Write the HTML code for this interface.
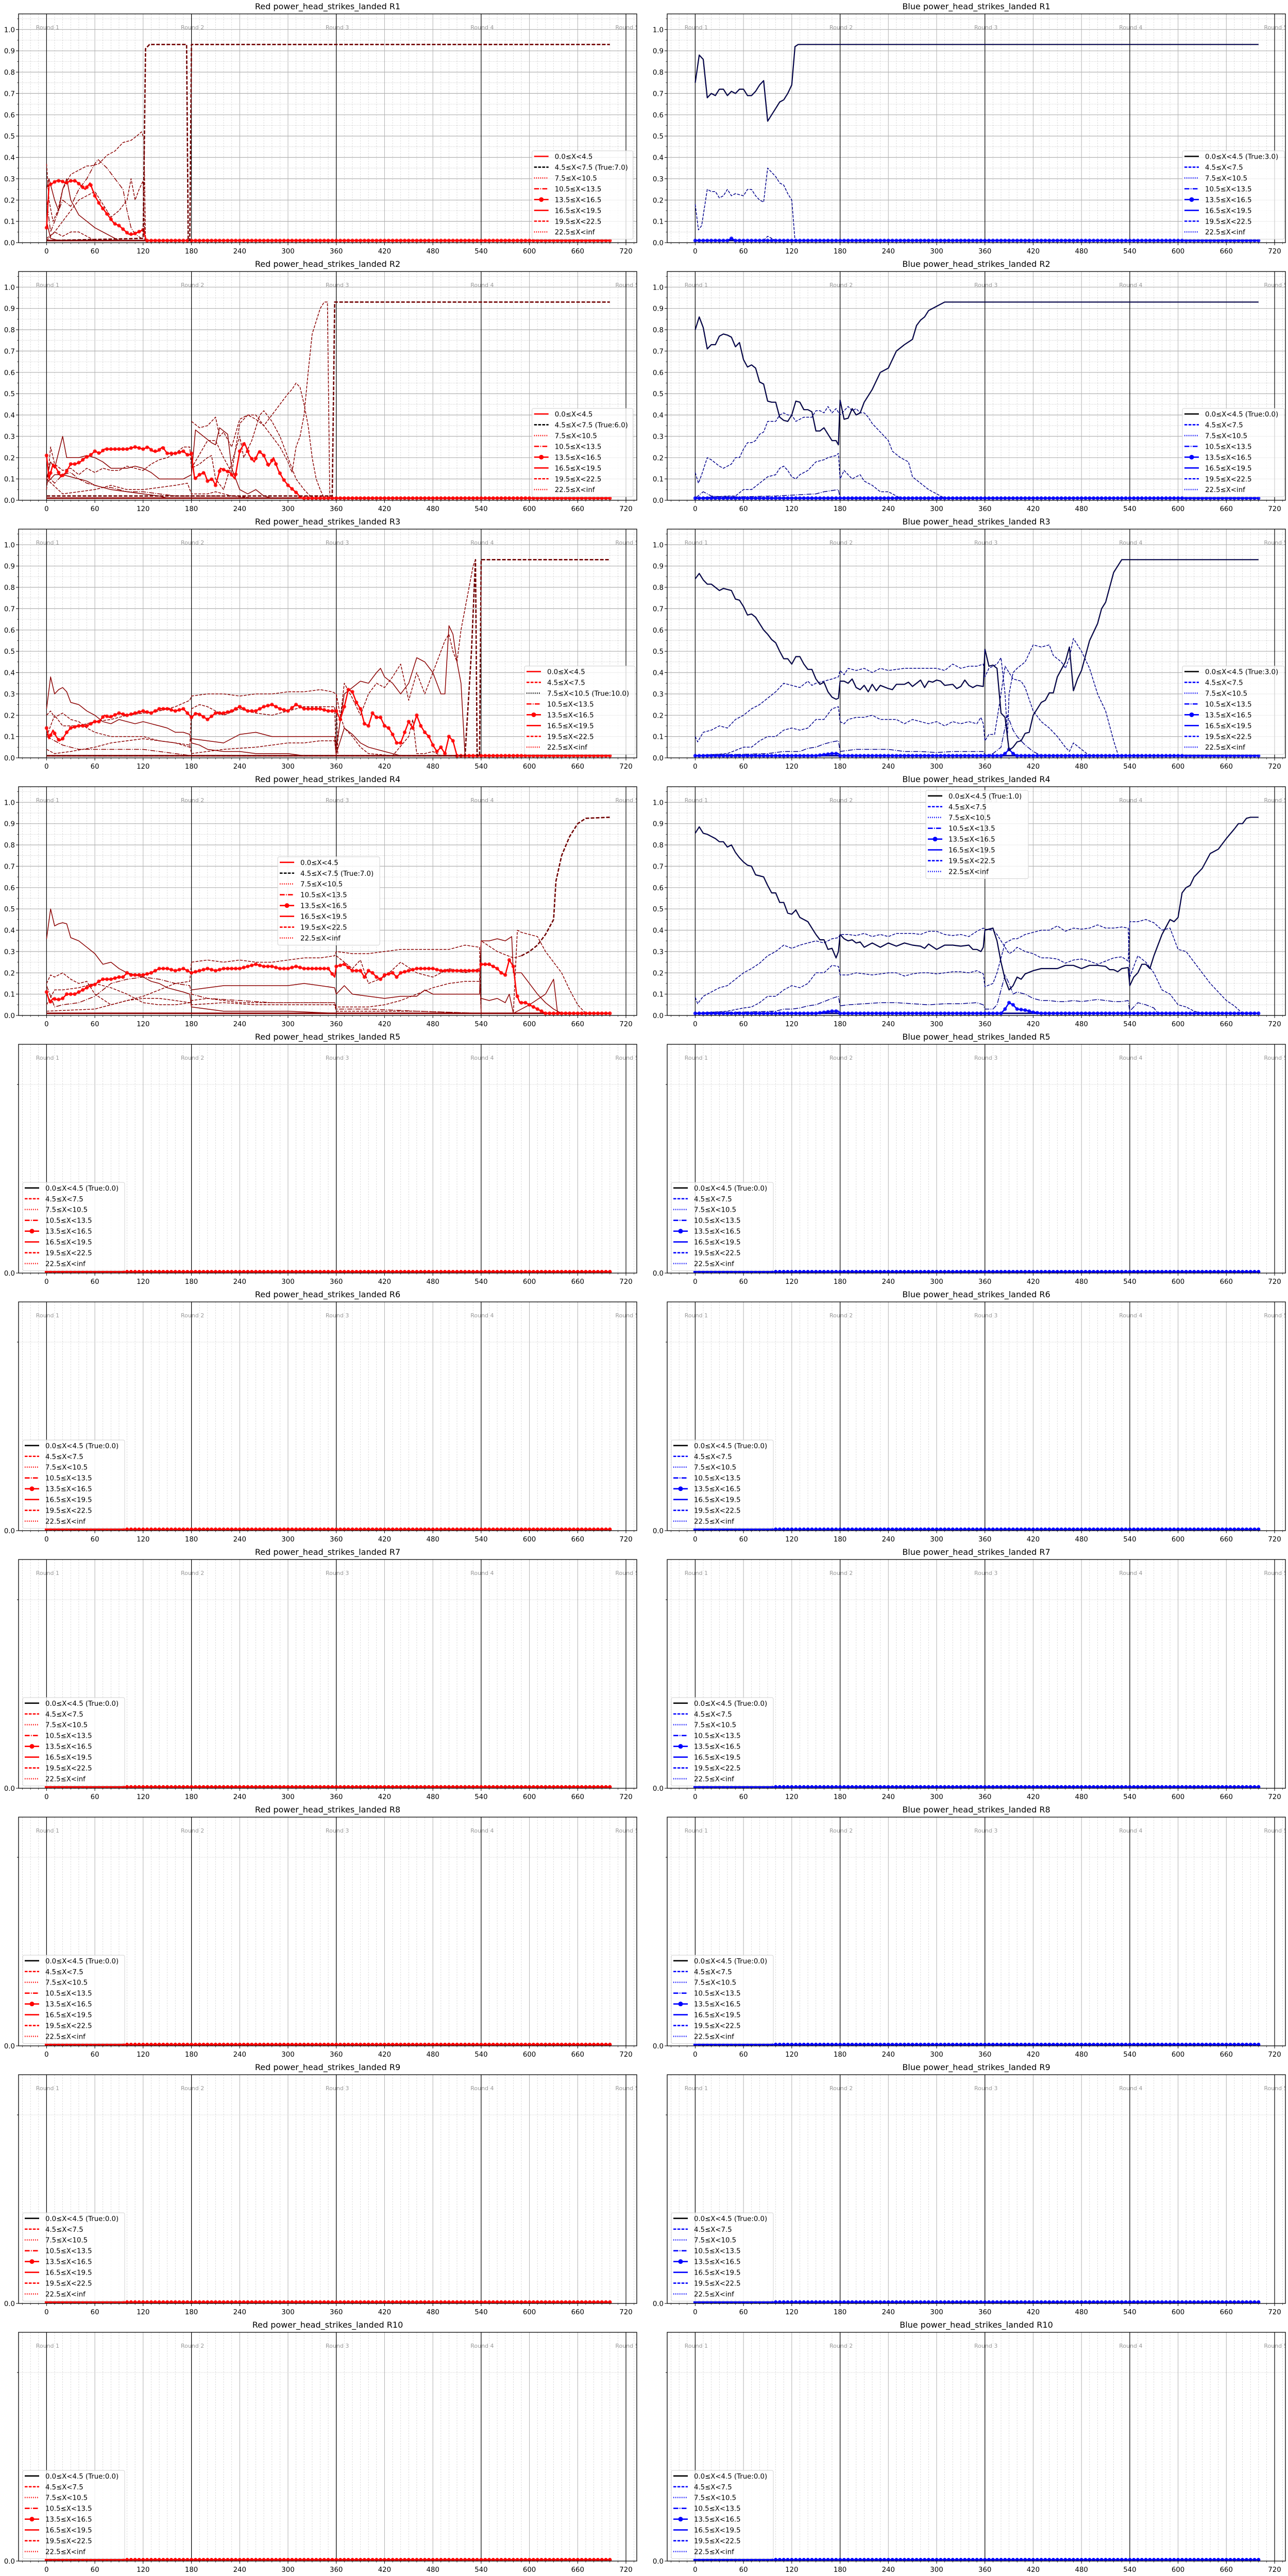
<!DOCTYPE html>
<html><head><meta charset="utf-8">
<style>
html,body{margin:0;padding:0;background:#fff;width:2500px;height:6000px;overflow:hidden;}
svg{display:block;position:absolute;left:0;top:0;width:2500px;height:6000px;overflow:hidden;font-family:"DejaVu Sans","Liberation Sans",sans-serif;}
</style></head>
<body>
<svg id="c" xmlns="http://www.w3.org/2000/svg" width="2500" height="6000" viewBox="0 0 2500 6000"></svg>
<script>
const TITLES_RED=["Red power_head_strikes_landed R1","Red power_head_strikes_landed R2","Red power_head_strikes_landed R3","Red power_head_strikes_landed R4","Red power_head_strikes_landed R5","Red power_head_strikes_landed R6","Red power_head_strikes_landed R7","Red power_head_strikes_landed R8","Red power_head_strikes_landed R9","Red power_head_strikes_landed R10","Red power_head_strikes_landed R11","Red power_head_strikes_landed R12"];
const TITLES_BLUE=["Blue power_head_strikes_landed R1","Blue power_head_strikes_landed R2","Blue power_head_strikes_landed R3","Blue power_head_strikes_landed R4","Blue power_head_strikes_landed R5","Blue power_head_strikes_landed R6","Blue power_head_strikes_landed R7","Blue power_head_strikes_landed R8","Blue power_head_strikes_landed R9","Blue power_head_strikes_landed R10","Blue power_head_strikes_landed R11","Blue power_head_strikes_landed R12"];
const BINS=["0.0≤X&lt;4.5","4.5≤X&lt;7.5","7.5≤X&lt;10.5","10.5≤X&lt;13.5","13.5≤X&lt;16.5","16.5≤X&lt;19.5","19.5≤X&lt;22.5","22.5≤X&lt;inf"];
const ROUNDS=["Round 1","Round 2","Round 3","Round 4","Round 5"];
const SPX=1.562;
function X(c,t){return c*1259+90.4+t*SPX}
function Y(r,v){return r*500+471-v*413.7}
const DASH={solid:"",dashed:"5.5,2.4",dotted:"1.5,2.5",dashdot:"9.6,2.4,1.5,2.4",tdash:"7,3"};
let s='';
function P(a){const o=[];for(let i=0;i<a.length;i+=2)o.push([a[i],a[i+1]]);return o;}
function interp(p,t){if(t<=p[0][0])return p[0][1];for(let i=1;i<p.length;i++){if(t<=p[i][0]){const a=p[i-1],b=p[i];if(b[0]==a[0])return b[1];return a[1]+(b[1]-a[1])*(t-a[0])/(b[0]-a[0]);}}return p[p.length-1][1];}
function poly(r,c,p,col,w,dash,extra){
  const pts=p.map(q=>X(c,q[0]).toFixed(1)+','+Y(r,q[1]).toFixed(1)).join(' ');
  s+=`<polyline points="${pts}" fill="none" stroke="${col}" stroke-width="${w}" ${dash?`stroke-dasharray="${dash}"`:''} stroke-linejoin="round" ${extra||''}/>`;
}
const D={};
D['0_0']={tr:P([0,0.01,120,0.02,123,0.91,128,0.93,174,0.93,176,0.01,178,0.01,180,0.93,700,0.93]),
 mk:P([0,0.07,3,0.27,8,0.28,12,0.29,18,0.29,24,0.28,30,0.29,36,0.29,42,0.27,48,0.25,54,0.28,60,0.22,66,0.18,72,0.15,78,0.12,84,0.09,90,0.08,96,0.06,102,0.04,108,0.04,114,0.05,120,0.06,124,0.01,700,0.01]),
 ls:[["dashed",P([0,0.37,3,0.2,8,0.1,14,0.15,20,0.25,30,0.32,40,0.34,50,0.36,55,0.36,65,0.37,75,0.41,85,0.43,95,0.47,105,0.48,112,0.5,118,0.52,121,0.49,123,0.01])],
 ["dashdot",P([0,0.2,5,0.05,10,0.1,20,0.2,30,0.17,40,0.25,50,0.3,60,0.37,64,0.39,75,0.35,85,0.3,95,0.25,100,0.15,105,0.07,110,0.04,118,0.02])],
 ["solid",P([0,0.25,3,0.3,10,0.2,15,0.15,20,0.25,25,0.3,30,0.2,40,0.13,50,0.1,60,0.07,70,0.05,80,0.03,90,0.01])],
 ["dashed",P([0,0.02,10,0.05,20,0.1,30,0.15,40,0.2,50,0.22,60,0.24,70,0.18,80,0.12,90,0.15,100,0.2,105,0.3,110,0.2,115,0.25,120,0.29,122,0.01])],
 ["dashed",P([0,0.01,10,0.05,20,0.03,30,0.05,40,0.05,50,0.03,60,0.01])],
 ["solid",P([0,0.1,5,0.02,15,0.01,50,0.01])]],
 leg:[1032.7,292.7,196,171.5],ti:1,ts:"dashed"};
D['0_1']={tr:P([0,0.75,5,0.88,10,0.86,15,0.68,20,0.7,25,0.69,30,0.72,35,0.72,40,0.69,45,0.71,50,0.7,55,0.72,60,0.72,65,0.69,70,0.69,75,0.71,80,0.74,85,0.76,90,0.57,95,0.6,100,0.63,105,0.66,110,0.67,115,0.7,120,0.74,124,0.92,128,0.93,700,0.93]),
 mk:P([0,0.01,40,0.01,45,0.02,50,0.01,700,0.01]),
 ls:[["dashed",P([0,0.18,4,0.06,8,0.08,15,0.25,20,0.24,25,0.24,30,0.21,35,0.22,40,0.25,45,0.22,50,0.23,60,0.22,65,0.25,70,0.25,75,0.22,80,0.2,85,0.19,90,0.35,95,0.33,100,0.31,105,0.28,110,0.27,115,0.23,120,0.2,124,0.01])],
 ["dashed",P([85,0.01,90,0.03,95,0.02,100,0.01])]],
 leg:[2295,292.7,198,171.5],ti:0,ts:"solid"};
D['1_0']={tr:P([0,0.02,355,0.02,358,0.93,700,0.93]),
 mk:P([0,0.21,3,0.1,8,0.17,12,0.15,18,0.11,24,0.13,30,0.17,36,0.17,42,0.18,48,0.2,54,0.21,60,0.23,66,0.22,72,0.24,78,0.24,90,0.24,100,0.24,110,0.25,120,0.24,126,0.25,132,0.23,138,0.23,144,0.25,150,0.22,160,0.22,170,0.23,176,0.21,180,0.22,184,0.1,190,0.12,196,0.13,200,0.09,206,0.1,210,0.07,216,0.15,222,0.14,228,0.13,234,0.1,240,0.23,246,0.27,252,0.21,258,0.18,264,0.23,270,0.21,276,0.16,282,0.2,288,0.14,294,0.1,300,0.07,306,0.05,312,0.03,316,0.01,700,0.01]),
 ls:[["dashed",P([180,0.37,190,0.34,200,0.35,210,0.39,215,0.3,220,0.32,230,0.25,240,0.38,250,0.4,260,0.4,270,0.35,280,0.3,290,0.25,300,0.18,305,0.13,310,0.25,315,0.3,320,0.4,325,0.6,330,0.78,340,0.9,345,0.93,349,0.93,352,0.01])],
 ["solid",P([0,0.1,5,0.18,10,0.15,20,0.3,25,0.2,30,0.2,40,0.2,50,0.21,60,0.2,70,0.18,80,0.15,90,0.15,100,0.15,110,0.16,120,0.15,130,0.13,140,0.1,150,0.1,160,0.1,170,0.1,180,0.12,185,0.33,195,0.3,205,0.27,210,0.26,215,0.34,225,0.31,230,0.15,240,0.05,250,0.03,260,0.05,270,0.02,280,0.01])],
 ["dashed",P([0,0.05,5,0.25,10,0.17,20,0.14,30,0.15,40,0.12,50,0.15,60,0.13,70,0.15,80,0.14,90,0.14,100,0.16,110,0.15,120,0.14,130,0.17,140,0.19,150,0.2,160,0.22,170,0.25,178,0.25,180,0.15,190,0.17,200,0.2,205,0.21,210,0.1,220,0.05,240,0.3,245,0.2,255,0.28,265,0.4,270,0.42,280,0.37,290,0.3,300,0.2,310,0.1,320,0.05,330,0.01])],
 ["dashed",P([0,0.1,20,0.03,40,0.04,60,0.05,80,0.07,100,0.05,120,0.05,140,0.06,160,0.07,175,0.08,180,0.03,200,0.03,210,0.04,230,0.02,260,0.01])],
 ["dashdot",P([0,0.12,10,0.08,20,0.12,30,0.13,40,0.1,50,0.08,60,0.07,70,0.06,80,0.06,100,0.04,120,0.04,140,0.03,160,0.02,180,0.02,200,0.02,220,0.02])],
 ["solid",P([0,0.08,10,0.12,20,0.12,30,0.11,40,0.1,50,0.09,60,0.07,80,0.05,100,0.04,120,0.03,140,0.02,150,0.01,180,0.01])],
 ["dashed",P([180,0.15,200,0.28,210,0.28,220,0.2,230,0.13,240,0.36,250,0.4,260,0.38,270,0.35,280,0.4,290,0.45,300,0.5,305,0.52,310,0.55,315,0.53,320,0.45,325,0.35,330,0.2,335,0.1,340,0.05,345,0.01])]],
 leg:[1032.7,292.7,196,171.5],ti:1,ts:"dashed"};
D['1_1']={tr:P([0,0.8,5,0.86,10,0.81,15,0.71,20,0.73,25,0.73,30,0.77,35,0.78,40,0.775,45,0.765,50,0.72,55,0.74,60,0.66,65,0.625,70,0.635,75,0.62,80,0.555,85,0.545,90,0.465,95,0.46,100,0.46,105,0.39,110,0.375,115,0.37,120,0.4,125,0.465,130,0.46,135,0.425,140,0.425,145,0.415,150,0.325,155,0.325,160,0.34,165,0.31,170,0.28,175,0.28,178,0.26,180,0.47,185,0.38,190,0.385,195,0.43,200,0.4,205,0.41,210,0.46,220,0.52,230,0.6,240,0.62,250,0.7,260,0.73,270,0.755,275,0.82,280,0.845,285,0.86,290,0.89,300,0.91,310,0.93,700,0.93]),
 mk:P([0,0.01,700,0.01]),
 ls:[["dashed",P([0,0.13,4,0.08,8,0.12,15,0.2,20,0.19,30,0.16,35,0.15,45,0.17,50,0.2,55,0.2,60,0.24,65,0.27,70,0.27,75,0.28,80,0.31,85,0.32,90,0.37,100,0.37,105,0.4,110,0.41,115,0.4,120,0.4,125,0.37,130,0.38,135,0.39,145,0.39,150,0.42,155,0.42,160,0.41,165,0.44,170,0.41,175,0.43,180,0.4,185,0.42,190,0.44,195,0.42,200,0.43,205,0.41,210,0.41,215,0.39,220,0.36,230,0.32,240,0.28,245,0.23,255,0.2,265,0.18,270,0.11,280,0.08,290,0.05,300,0.03,310,0.01])],
 ["dashed",P([0,0.01,40,0.02,50,0.02,60,0.05,70,0.05,80,0.08,90,0.11,100,0.12,105,0.15,110,0.16,115,0.14,120,0.11,125,0.1,130,0.12,140,0.14,150,0.18,160,0.19,165,0.2,175,0.21,178,0.22,180,0.1,185,0.14,190,0.12,195,0.1,200,0.11,205,0.12,210,0.09,220,0.07,230,0.04,240,0.04,250,0.02,255,0.01])],
 ["dashdot",P([0,0.01,10,0.04,20,0.02,40,0.015,100,0.02,150,0.03,160,0.04,178,0.05,180,0.01])]],
 leg:[2295,292.7,198,171.5],ti:0,ts:"solid"};
D['2_0']={tr:P([0,0.01,520,0.01,528,0.5,533,0.93,535,0.01,538,0.01,540,0.93,700,0.93]),
 mk:P([0,0.14,3,0.09,8,0.13,12,0.1,16,0.08,20,0.09,25,0.12,30,0.14,40,0.15,50,0.15,60,0.17,65,0.17,72,0.2,78,0.19,90,0.21,100,0.2,110,0.21,120,0.22,130,0.21,140,0.23,150,0.23,160,0.22,170,0.23,180,0.19,186,0.21,192,0.2,200,0.18,210,0.21,220,0.21,230,0.22,240,0.24,250,0.22,260,0.22,270,0.24,280,0.25,290,0.23,300,0.22,310,0.25,320,0.23,330,0.23,340,0.23,350,0.22,360,0.22,365,0.18,370,0.24,375,0.32,380,0.31,385,0.26,390,0.23,395,0.16,400,0.15,405,0.21,410,0.19,415,0.19,420,0.15,425,0.14,430,0.11,435,0.07,440,0.07,445,0.12,450,0.17,455,0.14,460,0.2,465,0.15,470,0.12,475,0.1,480,0.06,485,0.03,490,0.05,495,0.02,500,0.1,505,0.08,510,0.01,700,0.01]),
 ls:[["solid",P([0,0.23,5,0.38,10,0.3,15,0.32,20,0.33,25,0.31,30,0.26,40,0.25,50,0.22,60,0.2,70,0.17,80,0.16,90,0.18,100,0.17,110,0.16,120,0.17,130,0.16,140,0.15,150,0.14,160,0.12,170,0.12,178,0.11,180,0.07,190,0.06,200,0.04,220,0.03,240,0.03,260,0.02,280,0.02,300,0.02,320,0.01,360,0.01])],
 ["dashed",P([0,0.1,10,0.2,20,0.15,40,0.15,60,0.17,80,0.18,100,0.2,120,0.21,140,0.22,160,0.24,178,0.27,180,0.29,200,0.3,220,0.3,240,0.29,260,0.3,280,0.3,300,0.31,320,0.31,340,0.32,355,0.31,360,0.3,362,0.01])],
 ["dashed",P([0,0.2,5,0.22,10,0.19,20,0.21,30,0.18,40,0.17,50,0.14,60,0.12,80,0.1,100,0.1,120,0.1,140,0.08,160,0.07,178,0.05,180,0.23,190,0.25,200,0.24,210,0.22,220,0.2,240,0.23,260,0.21,280,0.2,300,0.22,320,0.24,340,0.24,358,0.24,360,0.01])],
 ["solid",P([180,0.09,200,0.08,220,0.07,240,0.11,260,0.12,280,0.1,300,0.1,320,0.1,340,0.1,358,0.1,360,0.01])],
 ["dashed",P([0,0.04,10,0.02,30,0.03,60,0.05,80,0.07,100,0.08,120,0.09,140,0.08,160,0.07,178,0.06,180,0.02,200,0.03,220,0.04,260,0.05,280,0.06,300,0.07,320,0.07,340,0.08,358,0.08,360,0.01])],
 ["dashdot",P([0,0.1,20,0.06,40,0.04,60,0.04,80,0.04,100,0.04,120,0.04,140,0.03,160,0.02,180,0.01,360,0.01])],
 ["solid",P([360,0.05,370,0.3,380,0.33,390,0.36,400,0.35,410,0.4,415,0.42,420,0.38,430,0.35,440,0.3,450,0.35,460,0.47,470,0.45,480,0.4,490,0.3,495,0.3,500,0.62,505,0.58,510,0.45,515,0.35,520,0.01])],
 ["dashed",P([360,0.02,370,0.35,380,0.28,390,0.2,400,0.3,410,0.35,420,0.33,430,0.38,440,0.44,450,0.27,460,0.4,470,0.3,480,0.4,490,0.5,495,0.55,500,0.58,505,0.5,510,0.45,515,0.6,520,0.7,525,0.8,530,0.9,533,0.93])],
 ["solid",P([360,0.02,370,0.14,380,0.11,390,0.07,400,0.05,420,0.03,440,0.01])],
 ["dashed",P([360,0.3,365,0.2,370,0.14,380,0.1,390,0.05,400,0.02,430,0.01,450,0.1,455,0.18,460,0.02,470,0.02,480,0.03,490,0.01])]],
 leg:[1018,292.7,215,171.5],ti:2,ts:"dotted"};
D['2_1']={tr:P([0,0.84,5,0.865,10,0.835,15,0.815,20,0.815,25,0.8,30,0.785,35,0.795,40,0.79,45,0.785,50,0.745,55,0.74,60,0.71,65,0.67,70,0.675,75,0.66,80,0.63,85,0.6,90,0.58,95,0.555,100,0.54,105,0.5,110,0.465,115,0.465,120,0.44,125,0.475,130,0.475,135,0.44,140,0.415,145,0.415,150,0.37,155,0.345,160,0.355,165,0.31,170,0.285,175,0.275,178,0.28,180,0.36,185,0.36,190,0.35,195,0.37,200,0.33,205,0.32,210,0.34,215,0.31,220,0.345,225,0.315,230,0.34,240,0.325,245,0.32,250,0.345,260,0.345,265,0.355,270,0.335,275,0.35,280,0.365,285,0.33,290,0.36,295,0.355,300,0.365,305,0.36,310,0.34,320,0.345,325,0.325,330,0.335,335,0.365,340,0.34,345,0.33,350,0.34,358,0.335,360,0.51,365,0.43,370,0.435,375,0.42,380,0.21,385,0.19,390,0.035,395,0.05,400,0.075,405,0.08,410,0.115,415,0.12,420,0.2,430,0.26,435,0.27,440,0.305,445,0.305,450,0.38,460,0.45,465,0.52,470,0.315,475,0.37,480,0.41,490,0.55,500,0.63,505,0.7,510,0.73,520,0.87,530,0.93,700,0.93]),
 mk:P([0,0.01,150,0.01,160,0.015,170,0.02,178,0.02,180,0.01,380,0.01,385,0.02,390,0.04,395,0.02,400,0.01,700,0.01]),
 ls:[["dashed",P([0,0.1,3,0.075,10,0.12,20,0.13,30,0.15,40,0.14,50,0.18,60,0.2,70,0.23,80,0.25,90,0.28,100,0.31,110,0.35,120,0.34,130,0.33,140,0.36,145,0.34,150,0.35,160,0.36,170,0.37,178,0.38,180,0.41,185,0.39,190,0.42,200,0.41,210,0.42,220,0.4,230,0.42,240,0.41,260,0.42,280,0.42,300,0.42,310,0.41,320,0.44,330,0.42,340,0.43,350,0.43,358,0.44,360,0.38,365,0.42,370,0.43,375,0.44,380,0.47,385,0.3,388,0.1,390,0.3,395,0.4,400,0.42,410,0.45,420,0.53,430,0.52,440,0.53,445,0.48,455,0.45,460,0.42,465,0.47,470,0.56,480,0.5,490,0.42,500,0.3,510,0.22,520,0.08,525,0.02])],
 ["dashed",P([0,0.01,40,0.02,60,0.05,70,0.05,80,0.08,90,0.1,100,0.1,110,0.13,120,0.14,130,0.13,140,0.14,150,0.18,160,0.18,170,0.23,178,0.24,180,0.17,185,0.16,190,0.18,200,0.19,210,0.19,220,0.2,230,0.18,240,0.18,250,0.18,260,0.16,270,0.18,280,0.17,290,0.16,300,0.17,310,0.15,320,0.17,330,0.16,340,0.17,350,0.16,355,0.19,358,0.16,360,0.08,365,0.11,372,0.11,378,0.25,385,0.43,395,0.37,405,0.36,410,0.33,420,0.22,430,0.17,440,0.14,450,0.1,460,0.05,465,0.03,470,0.07,480,0.04,490,0.01])],
 ["dashdot",P([0,0.01,90,0.02,110,0.03,130,0.03,140,0.045,150,0.05,160,0.065,170,0.075,178,0.08,180,0.03,190,0.035,200,0.04,220,0.04,240,0.04,260,0.03,280,0.03,300,0.025,320,0.03,340,0.03,358,0.03,360,0.01,370,0.02,380,0.05,388,0.2,395,0.13,400,0.1,410,0.06,420,0.03,430,0.01])]],
 leg:[2295,292.7,198,171.5],ti:0,ts:"solid"};
D['3_0']={tr:P([590,0.28,600,0.3,610,0.33,620,0.38,630,0.45,633,0.63,640,0.75,650,0.84,660,0.9,670,0.925,700,0.93]),
 mk:P([0,0.11,4,0.06,8,0.08,12,0.075,16,0.075,20,0.08,25,0.1,30,0.1,35,0.1,40,0.11,45,0.12,50,0.13,55,0.14,60,0.145,65,0.16,70,0.17,75,0.17,80,0.17,85,0.175,90,0.18,95,0.18,100,0.2,105,0.19,110,0.19,120,0.19,130,0.2,140,0.22,150,0.22,160,0.21,170,0.22,180,0.2,190,0.21,200,0.22,210,0.21,220,0.22,230,0.22,240,0.22,250,0.23,260,0.24,270,0.23,280,0.23,290,0.22,300,0.22,310,0.23,320,0.22,330,0.22,340,0.22,350,0.22,358,0.18,360,0.23,370,0.24,380,0.21,390,0.21,395,0.18,400,0.21,405,0.2,410,0.18,415,0.17,420,0.19,430,0.2,435,0.18,440,0.2,450,0.21,460,0.22,470,0.22,480,0.22,490,0.21,500,0.21,510,0.21,520,0.21,530,0.21,538,0.21,540,0.24,550,0.24,560,0.22,565,0.2,570,0.19,575,0.26,580,0.23,584,0.1,588,0.06,595,0.06,600,0.05,605,0.04,610,0.03,615,0.02,620,0.01,700,0.01]),
 ls:[["dashed",P([0,0.15,5,0.19,10,0.18,20,0.2,30,0.17,40,0.15,50,0.16,60,0.1,80,0.05,100,0.07,120,0.08,140,0.08,160,0.07,178,0.06,180,0.07,200,0.08,220,0.07,240,0.06,260,0.06,280,0.06,300,0.06,320,0.06,340,0.06,358,0.06,360,0.04,380,0.04,400,0.04,420,0.05,440,0.07,460,0.1,480,0.13,500,0.15,520,0.16,538,0.16,540,0.35,560,0.3,580,0.27,590,0.28])],
 ["solid",P([0,0.36,5,0.5,10,0.42,15,0.43,20,0.435,25,0.43,30,0.365,40,0.35,50,0.32,60,0.29,70,0.24,80,0.25,90,0.22,100,0.2,110,0.19,120,0.18,130,0.16,140,0.15,150,0.13,160,0.12,170,0.11,178,0.1,180,0.04,200,0.03,220,0.02,260,0.02,300,0.02,360,0.01])],
 ["dashed",P([0,0.02,60,0.03,100,0.07,120,0.09,140,0.12,160,0.15,178,0.16,180,0.25,200,0.26,220,0.25,240,0.26,260,0.25,280,0.25,300,0.26,320,0.27,340,0.27,358,0.28,360,0.3,380,0.29,400,0.29,420,0.3,440,0.31,460,0.31,480,0.31,500,0.31,520,0.33,538,0.32,540,0.01])],
 ["solid",P([180,0.12,200,0.13,220,0.14,240,0.14,260,0.14,280,0.14,300,0.14,320,0.15,340,0.14,358,0.13,360,0.1,370,0.14,380,0.1,400,0.09,420,0.08,440,0.09,460,0.09,470,0.12,480,0.1,500,0.1,520,0.1,538,0.1,540,0.35,550,0.35,560,0.36,570,0.35,578,0.37,580,0.2,590,0.2,600,0.15,610,0.1,620,0.06,630,0.03,640,0.01])],
 ["dashed",P([0,0.05,10,0.12,20,0.12,40,0.13,60,0.15,80,0.13,100,0.1,120,0.06,140,0.05,160,0.05,178,0.06,180,0.05,220,0.06,260,0.05,300,0.05,340,0.05,358,0.05,360,0.02,400,0.02,460,0.02,540,0.01])],
 ["dashdot",P([0,0.14,10,0.04,20,0.05,40,0.06,60,0.09,80,0.15,100,0.17,120,0.18,140,0.17,160,0.15,178,0.14,180,0.1,200,0.08,240,0.07,280,0.06,320,0.06,358,0.06,360,0.03,400,0.03,460,0.02,540,0.01])],
 ["dashed",P([360,0.28,380,0.22,390,0.26,400,0.15,420,0.18,440,0.25,460,0.2,480,0.18,500,0.22,520,0.2,538,0.22,540,0.01,580,0.01,585,0.4,590,0.39,600,0.38,610,0.37,620,0.3,630,0.25,640,0.2,650,0.12,660,0.05,670,0.01])],
 ["solid",P([540,0.08,550,0.07,560,0.08,570,0.06,575,0.1,580,0.01,600,0.05,620,0.1,630,0.17,635,0.01])]],
 leg:[539,163,198,171.5],ti:1,ts:"dashed"};
D['3_1']={tr:P([0,0.855,5,0.885,10,0.855,15,0.85,20,0.84,25,0.83,30,0.815,35,0.815,40,0.79,45,0.8,50,0.765,55,0.74,60,0.72,65,0.705,70,0.7,75,0.66,80,0.655,85,0.65,90,0.61,95,0.575,100,0.575,105,0.53,110,0.53,115,0.48,120,0.475,125,0.495,130,0.46,140,0.44,145,0.41,150,0.38,155,0.355,160,0.355,165,0.31,170,0.315,175,0.27,178,0.3,180,0.38,185,0.36,190,0.35,195,0.355,200,0.34,205,0.345,210,0.32,220,0.34,230,0.32,240,0.34,250,0.325,260,0.34,270,0.33,280,0.325,285,0.315,290,0.335,300,0.31,310,0.33,320,0.33,330,0.325,340,0.33,345,0.31,350,0.31,355,0.3,358,0.32,360,0.4,370,0.41,375,0.35,380,0.25,385,0.17,390,0.12,395,0.14,400,0.18,405,0.17,410,0.195,420,0.21,430,0.22,440,0.22,450,0.22,460,0.235,470,0.235,480,0.22,490,0.235,500,0.235,510,0.23,515,0.215,520,0.215,525,0.205,530,0.22,538,0.225,540,0.14,545,0.18,550,0.2,555,0.24,560,0.24,565,0.22,570,0.28,580,0.38,590,0.45,595,0.44,600,0.46,605,0.575,610,0.6,615,0.61,620,0.65,630,0.69,640,0.76,650,0.78,660,0.83,670,0.875,675,0.9,680,0.9,685,0.925,690,0.93,700,0.93]),
 mk:P([0,0.01,150,0.01,160,0.015,170,0.02,178,0.02,180,0.01,380,0.01,385,0.03,390,0.06,395,0.05,400,0.03,410,0.025,420,0.015,430,0.01,700,0.01]),
 ls:[["dashed",P([0,0.085,3,0.055,10,0.09,20,0.11,30,0.13,40,0.14,50,0.17,60,0.2,70,0.22,80,0.245,90,0.28,100,0.3,110,0.33,120,0.315,130,0.33,140,0.34,150,0.35,160,0.34,170,0.36,178,0.365,180,0.38,190,0.38,200,0.375,210,0.385,220,0.37,230,0.38,240,0.37,250,0.385,260,0.385,270,0.385,280,0.38,290,0.395,300,0.395,310,0.38,320,0.375,330,0.38,340,0.37,350,0.395,358,0.41,360,0.405,370,0.4,375,0.38,380,0.35,390,0.29,395,0.3,400,0.32,410,0.3,420,0.29,430,0.27,440,0.27,450,0.265,460,0.245,470,0.26,480,0.265,490,0.255,500,0.24,510,0.255,520,0.27,530,0.275,538,0.255,540,0.44,550,0.44,560,0.45,570,0.435,580,0.4,590,0.41,600,0.31,610,0.3,620,0.25,630,0.2,640,0.15,650,0.11,660,0.07,670,0.045,680,0.01])],
 ["dashed",P([0,0.01,40,0.02,60,0.035,70,0.04,80,0.06,90,0.09,100,0.09,110,0.12,120,0.14,130,0.13,140,0.15,150,0.2,160,0.2,170,0.235,178,0.23,180,0.19,190,0.19,200,0.2,210,0.195,220,0.19,240,0.2,250,0.2,260,0.185,270,0.195,280,0.2,290,0.2,300,0.195,310,0.2,320,0.205,330,0.205,340,0.2,350,0.21,358,0.195,360,0.135,370,0.15,375,0.2,380,0.27,385,0.34,395,0.36,400,0.36,410,0.38,420,0.39,430,0.4,440,0.4,450,0.42,460,0.395,470,0.41,480,0.405,490,0.41,500,0.425,510,0.41,520,0.41,530,0.415,538,0.41,540,0.18,550,0.28,560,0.25,570,0.2,580,0.12,590,0.1,600,0.05,610,0.04,620,0.02,630,0.01])],
 ["dashdot",P([0,0.01,100,0.02,110,0.03,120,0.03,130,0.035,140,0.045,150,0.05,160,0.065,170,0.08,178,0.09,180,0.045,190,0.05,210,0.055,230,0.06,250,0.06,270,0.055,290,0.05,310,0.055,330,0.055,350,0.06,358,0.05,360,0.03,370,0.03,375,0.05,380,0.12,385,0.19,390,0.15,395,0.1,400,0.11,410,0.1,420,0.08,430,0.07,440,0.07,450,0.065,460,0.065,470,0.07,480,0.065,490,0.07,500,0.075,510,0.07,520,0.065,530,0.065,538,0.07,540,0.02,550,0.06,560,0.05,570,0.035,575,0.01])]],
 leg:[1797,34,199,171.5],ti:0,ts:"solid"};

function legend(c,r,lx,ly,w,h,ti,ts,col,tv){
  const oy=r*500;
  s+=`<rect x="${lx}" y="${oy+ly}" width="${w}" height="${h}" rx="3" fill="#fff" fill-opacity="0.8" stroke="#d0d0d0" stroke-width="1"/>`;
  const styles=["solid","dashed","dotted","dashdot","solid","solid","dashed","dotted"];
  for(let i=0;i<8;i++){
    const y=oy+ly+10.8+i*20.96;
    let st=styles[i],cc=col,lab=BINS[i];
    if(i==ti){cc="#000";st=ts;lab+=" (True:"+tv+")";}
    const d=st=="dashed"?"5.5,2.4":st=="dotted"?"1.5,2.5":st=="dashdot"?"9.6,2.4,1.5,2.4":"";
    s+=`<line x1="${lx+4}" y1="${y}" x2="${lx+32}" y2="${y}" stroke="${cc}" stroke-width="2.6" ${d?`stroke-dasharray="${d}"`:''}/>`;
    if(i==4) s+=`<circle cx="${lx+18}" cy="${y}" r="4.5" fill="${cc}"/>`;
    s+=`<text x="${lx+44}" y="${y+5}" font-size="13.3" fill="#000">${lab}</text>`;
  }
}
const TV={'0_0':"7.0",'0_1':"3.0",'1_0':"6.0",'1_1':"0.0",'2_0':"10.0",'2_1':"3.0",'3_0':"7.0",'3_1':"1.0"};
for(let r=0;r<12;r++)for(let c=0;c<2;c++){
  const key=r+'_'+c, d=D[key];
  const ox=c*1259, oy=r*500, L=ox+36, R=ox+1236, T=oy+27, B=oy+471;
  const red=c==0, col=red?"#ff0000":"#0000ff", dk=red?"#8b0000":"#00008b";
  s+=`<clipPath id="cp${key}"><rect x="${L}" y="${T}" width="${R-L}" height="${B-T}"/></clipPath>`;
  s+=`<g clip-path="url(#cp${key})">`;
  for(let t=-30;t<=740;t+=10){ if(t%60==0) continue; const x=X(c,t).toFixed(1);
    s+=`<line x1="${x}" y1="${T}" x2="${x}" y2="${B}" stroke="#d6d6d6" stroke-width="0.8" stroke-dasharray="3,2"/>`;}
  for(let t=0;t<=720;t+=60){const x=X(c,t).toFixed(1);
    s+=`<line x1="${x}" y1="${T}" x2="${x}" y2="${B}" stroke="#b0b0b0" stroke-width="1"/>`;}
  if(d){
    for(let v=0.05;v<1.08;v+=0.1){const y=Y(r,v).toFixed(1);
      s+=`<line x1="${L}" y1="${y}" x2="${R}" y2="${y}" stroke="#c8c8c8" stroke-width="0.8" stroke-dasharray="1.5,1.5"/>`;}
    for(let k=1;k<=10;k++){const y=Y(r,k/10).toFixed(1);
      s+=`<line x1="${L}" y1="${y}" x2="${R}" y2="${y}" stroke="#b0b0b0" stroke-width="1.2"/>`;}
  } else {
    s+=`<line x1="${L}" y1="${oy+105}" x2="${R}" y2="${oy+105}" stroke="#c8c8c8" stroke-width="0.8" stroke-dasharray="1.5,1.5"/>`;
  }
  for(let k=0;k<5;k++){const x=X(c,k*180);
    s+=`<line x1="${x.toFixed(1)}" y1="${T}" x2="${x.toFixed(1)}" y2="${B}" stroke="#000" stroke-width="1.2"/>`;
    s+=`<text x="${(x+2).toFixed(1)}" y="${oy+57}" font-size="11" fill="#999" text-anchor="middle">${ROUNDS[k]}</text>`;}
  if(d){
    poly(r,c,[[0,0.01],[700,0.01]],dk,3,"");
    d.ls.forEach(l=>poly(r,c,l[1],dk,1.5,DASH[l[0]]));
    poly(r,c,d.mk,col,2.5,"");
    let cs='';
    const t0=d.mk[0][0];
    for(let t=t0;t<=700;t+=5){cs+=`<circle cx="${X(c,t).toFixed(1)}" cy="${Y(r,interp(d.mk,t)).toFixed(1)}" r="3.6"/>`;}
    s+=`<g fill="${col}" fill-opacity="0.85">${cs}</g>`;
    if(red){poly(r,c,d.tr,"#700000",2.6,DASH.tdash);}
    else{poly(r,c,d.tr,"#000",2.2,"");poly(r,c,d.tr,"#00008b",1,"");}
  } else {
    const yb=B-2.5;
    s+=`<line x1="${X(c,0)}" y1="${yb}" x2="${X(c,700)}" y2="${yb}" stroke="${dk}" stroke-width="2.5"/>`;
    let cs='';for(let t=0;t<=700;t+=5)cs+=`<circle cx="${X(c,t).toFixed(1)}" cy="${yb}" r="3.6"/>`;
    s+=`<g fill="${col}">${cs}</g>`;
  }
  s+=`</g>`;
  s+=`<rect x="${L}" y="${T}" width="${R-L}" height="${B-T}" fill="none" stroke="#000" stroke-width="1.3"/>`;
  for(let t=-30;t<=730;t+=10){const x=X(c,t).toFixed(1);const maj=t%60==0&&t>=0&&t<=720;
    s+=`<line x1="${x}" y1="${B}" x2="${x}" y2="${B+(maj?5:2.8)}" stroke="#000" stroke-width="${maj?1:0.7}"/>`;
    if(maj)s+=`<text x="${x}" y="${B+21}" font-size="13.3" text-anchor="middle">${t}</text>`;}
  if(d){
    for(let k=0;k<=21;k++){const v=k*0.05;const y=Y(r,v);const maj=k%2==0;
      s+=`<line x1="${L}" y1="${y.toFixed(1)}" x2="${L-(maj?5:2.8)}" y2="${y.toFixed(1)}" stroke="#000" stroke-width="${maj?1:0.7}"/>`;
      if(maj&&k<=20)s+=`<text x="${L-7}" y="${(y+5).toFixed(1)}" font-size="13.3" text-anchor="end">${v.toFixed(1)}</text>`;}
  } else {
    s+=`<line x1="${L}" y1="${B}" x2="${L-5}" y2="${B}" stroke="#000"/>`;
    s+=`<text x="${L-7}" y="${B+5}" font-size="13.3" text-anchor="end">0.0</text>`;
    s+=`<line x1="${L}" y1="${oy+105}" x2="${L-3}" y2="${oy+105}" stroke="#000"/>`;
  }
  s+=`<text x="${(L+R)/2}" y="${oy+18}" font-size="16" text-anchor="middle">${red?TITLES_RED[r]:TITLES_BLUE[r]}</text>`;
  const tv=TV[key]||"0.0";
  if(d) legend(c,r,d.leg[0],d.leg[1],d.leg[2],d.leg[3],d.ti,d.ts,col,tv);
  else legend(c,r,ox+44,295,198,171.5,0,"solid",col,tv);
}
document.getElementById('c').innerHTML=s;
</script>
</body></html>
